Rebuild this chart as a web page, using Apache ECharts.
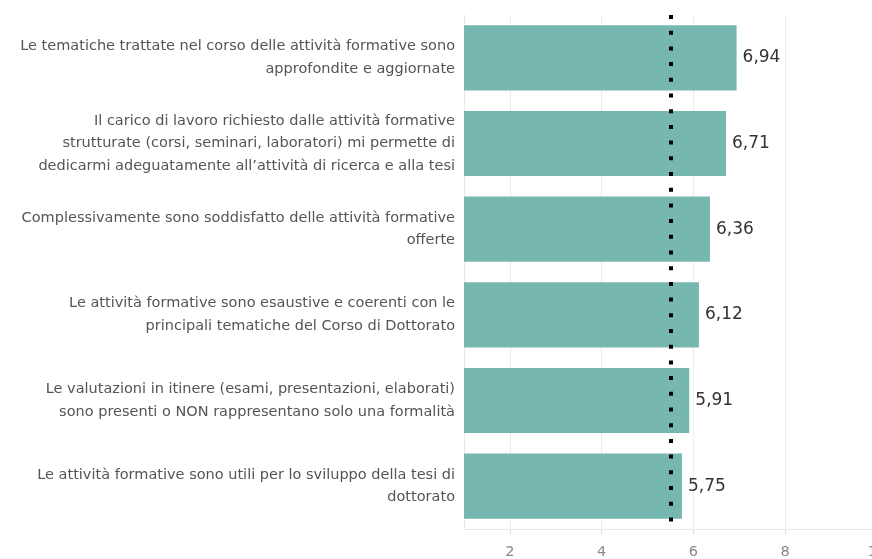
<!DOCTYPE html>
<html>
<head>
<meta charset="utf-8">
<script src="https://cdn.jsdelivr.net/npm/echarts@6/dist/echarts.min.js"></script>
<style>
  html, body { margin: 0; padding: 0; background: #fff; }
  #main { width: 872px; height: 559px; }
</style>
</head>
<body>
<div id="main"></div>
<script>
// domande (dall'alto verso il basso)
var categories = [
    'Le tematiche trattate nel corso delle attività formative sono\napprofondite e aggiornate',
    'Il carico di lavoro richiesto dalle attività formative\nstrutturate (corsi, seminari, laboratori) mi permette di\ndedicarmi adeguatamente all\u2019attività di ricerca e alla tesi',
    'Complessivamente sono soddisfatto delle attività formative\nofferte',
    'Le attività formative sono esaustive e coerenti con le\nprincipali tematiche del Corso di Dottorato',
    'Le valutazioni in itinere (esami, presentazioni, elaborati)\nsono presenti o NON rappresentano solo una formalità',
    'Le attività formative sono utili per lo sviluppo della tesi di\ndottorato'
];
var scores = [6.94, 6.71, 6.36, 6.12, 5.91, 5.75];
var mediaRiferimento = 5.5;   // linea tratteggiata

var myChart = echarts.init(document.getElementById('main'));

var option = {
    backgroundColor: '#fff',
    animation: false,
    textStyle: { fontFamily: 'DejaVu Sans' },
    grid: {
        left: 464,
        width: 413,
        top: 15,
        bottom: 30,
        containLabel: false,
        outerBoundsMode: 'none'
    },
    xAxis: {
        type: 'value',
        min: 1,
        max: 10,
        splitNumber: 5,
        axisLine: { show: true, lineStyle: { color: '#e8e8e8', width: 1 } },
        axisTick: { show: true, length: 5, lineStyle: { color: '#e0e0e0' } },
        axisLabel: {
            showMinLabel: false,
            color: '#888',
            fontSize: 14.5,
            margin: 16
        },
        splitLine: { show: true, lineStyle: { color: '#ececec', width: 1 } }
    },
    yAxis: {
        type: 'category',
        inverse: true,
        data: categories,
        axisLine: { show: true, lineStyle: { color: '#e8e8e8' } },
        axisTick: { show: false },
        axisLabel: {
            color: '#555',
            fontSize: 14.5,
            lineHeight: 22.5,
            margin: 9,
            align: 'right'
        }
    },
    series: [{
        type: 'bar',
        data: scores,
        barCategoryGap: '24%',
        itemStyle: { color: '#76b7b0' },
        label: {
            show: true,
            position: 'right',
            distance: 6,
            color: '#333',
            fontSize: 17,
            formatter: function (p) {
                return p.value.toFixed(2).replace('.', ',');
            }
        },
        markLine: {
            silent: true,
            symbol: 'none',
            label: { show: false },
            lineStyle: {
                color: '#000',
                width: 4,
                type: [4, 11.7],
                cap: 'butt'
            },
            data: [{ xAxis: mediaRiferimento }]
        }
    }]
};
myChart.setOption(option);
</script>
</body>
</html>
